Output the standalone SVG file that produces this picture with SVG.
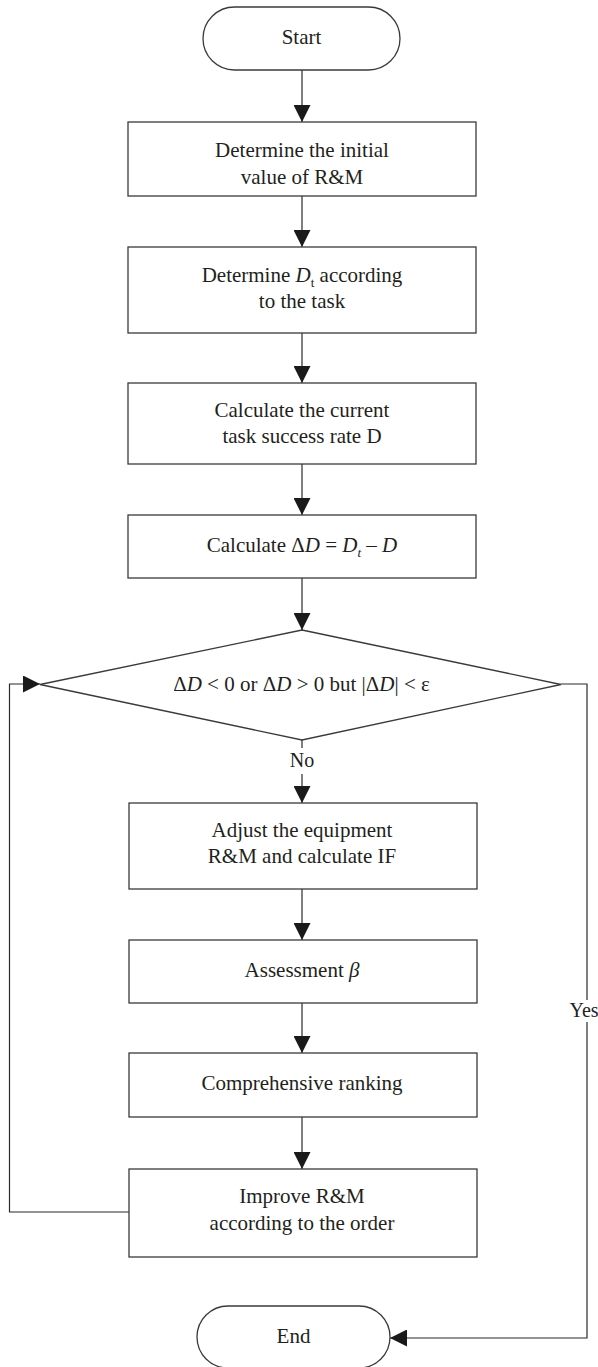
<svg xmlns="http://www.w3.org/2000/svg" width="598" height="1367" viewBox="0 0 598 1367">
<style>
.n{fill:#fff;stroke:#3a3a3a;stroke-width:1.3}
.t{font-family:"Liberation Serif","Times New Roman",serif;font-size:21px;fill:#231f20;text-anchor:middle}
.l{font-size:20px}
.i{font-style:italic}
.c{fill:none;stroke:#2a2a2a;stroke-width:1.2}
</style>
<defs>
<marker id="ah" markerUnits="userSpaceOnUse" markerWidth="17" markerHeight="17" refX="17" refY="8.5" orient="auto" viewBox="0 0 17 17">
<path d="M0,0 L17,8.5 L0,17 z" fill="#1a1a1a"/>
</marker>
</defs>
<rect width="598" height="1367" fill="#fff"/>
<g id="connectors">
<line class="c" x1="302" y1="70" x2="302" y2="122" marker-end="url(#ah)"/>
<line class="c" x1="302" y1="196" x2="302" y2="247" marker-end="url(#ah)"/>
<line class="c" x1="302" y1="333" x2="302" y2="383" marker-end="url(#ah)"/>
<line class="c" x1="302" y1="464" x2="302" y2="515" marker-end="url(#ah)"/>
<line class="c" x1="302" y1="578" x2="302" y2="630" marker-end="url(#ah)"/>
<line class="c" x1="302" y1="740" x2="302" y2="748"/>
<line class="c" x1="302" y1="774" x2="302" y2="803" marker-end="url(#ah)"/>
<line class="c" x1="302" y1="889" x2="302" y2="940" marker-end="url(#ah)"/>
<line class="c" x1="302" y1="1003" x2="302" y2="1053" marker-end="url(#ah)"/>
<line class="c" x1="302" y1="1117" x2="302" y2="1169" marker-end="url(#ah)"/>
<polyline class="c" points="129,1212 9.5,1212 9.5,684 40,684" marker-end="url(#ah)"/>
<polyline class="c" points="561,684 587,684 587,1000"/>
<polyline class="c" points="587,1022 587,1338 390,1338" marker-end="url(#ah)"/>
<text class="t l" x="302" y="767">No</text>
<text class="t l" x="584" y="1017">Yes</text>
</g>
<g id="start">
<rect class="n" x="203" y="7" width="197" height="63" rx="31.5"/>
<text class="t" x="301.5" y="44">Start</text>
</g>
<g id="init">
<rect class="n" x="128" y="122" width="348" height="74"/>
<text class="t" x="302" y="157">Determine the initial</text>
<text class="t" x="302" y="184">value of R&amp;M</text>
</g>
<g id="dt">
<rect class="n" x="128" y="247" width="348" height="86"/>
<text class="t" x="302" y="282">Determine <tspan class="i">D</tspan><tspan font-size="13" dy="5">t</tspan><tspan dy="-5"> according</tspan></text>
<text class="t" x="302" y="308">to the task</text>
</g>
<g id="calcD">
<rect class="n" x="128" y="383" width="348" height="81"/>
<text class="t" x="302" y="417">Calculate the current</text>
<text class="t" x="302" y="443">task success rate D</text>
</g>
<g id="deltaD">
<rect class="n" x="128" y="515" width="348" height="63"/>
<text class="t" x="302" y="552">Calculate Δ<tspan class="i">D</tspan> = <tspan class="i">D</tspan><tspan class="i" font-size="13" dy="5">t</tspan><tspan dy="-5"> – </tspan><tspan class="i">D</tspan></text>
</g>
<g id="decision">
<polygon class="n" points="302,630 561,684.5 302,740 40,684.5"/>
<text class="t" x="301.5" y="691">Δ<tspan class="i">D</tspan> &lt; 0 or Δ<tspan class="i">D</tspan> &gt; 0 but |Δ<tspan class="i">D</tspan>| &lt; ε</text>
</g>
<g id="adjust">
<rect class="n" x="129" y="803" width="348" height="86"/>
<text class="t" x="302" y="837">Adjust the equipment</text>
<text class="t" x="302" y="863">R&amp;M and calculate IF</text>
</g>
<g id="assess">
<rect class="n" x="129" y="940" width="348" height="63"/>
<text class="t" x="302" y="977">Assessment <tspan class="i">β</tspan></text>
</g>
<g id="rank">
<rect class="n" x="129" y="1053" width="348" height="64"/>
<text class="t" x="302" y="1090">Comprehensive ranking</text>
</g>
<g id="improve">
<rect class="n" x="129" y="1169" width="348" height="88"/>
<text class="t" x="302" y="1203">Improve R&amp;M</text>
<text class="t" x="302" y="1230">according to the order</text>
</g>
<g id="end">
<rect class="n" x="197" y="1306" width="193" height="62" rx="31"/>
<text class="t" x="293.5" y="1343">End</text>
</g>
</svg>
